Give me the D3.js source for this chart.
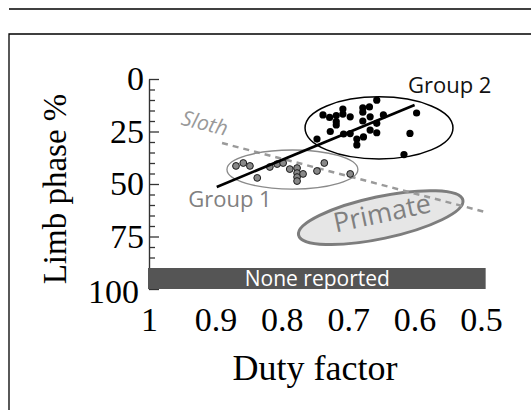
<!DOCTYPE html>
<html><head><meta charset="utf-8">
<script src="https://cdn.jsdelivr.net/npm/d3@7"></script>
<style>
html,body{margin:0;padding:0;background:#fff;}
svg{display:block;}
</style>
</head><body>
<svg id="chart" width="531" height="410"></svg>
<script>
// ---- data ----
const xTicks = [1, 0.9, 0.8, 0.7, 0.6, 0.5];
const yTicks = [0, 25, 50, 75, 100];
const yMinorTicks = [5,10,15,20,30,35,40,45,55,60,65,70,80,85];
// Group 1: [duty factor, limb phase %]
const group1 = [
  [0.869,41.4],[0.858,40.0],[0.848,41.4],[0.837,47.1],[0.818,41.9],[0.807,40.5],
  [0.798,40.0],[0.788,42.9],[0.777,42.4],[0.777,44.8],[0.777,46.7],[0.777,48.6],
  [0.768,45.2],[0.747,43.8],[0.736,40.0],[0.697,45.2]
];
// Group 2
const group2 = [
  [0.747,28.6],[0.738,17.1],[0.728,18.3],[0.727,25.0],[0.718,17.4],[0.718,20.3],
  [0.718,21.9],[0.708,14.3],[0.708,16.7],[0.707,26.2],[0.697,18.0],[0.697,26.0],
  [0.687,28.6],[0.687,31.4],[0.678,13.7],[0.678,15.8],[0.678,20.0],[0.677,27.6],
  [0.668,13.3],[0.667,18.0],[0.667,24.3],[0.657,10.1],[0.657,21.1],[0.657,25.6],
  [0.647,17.1],[0.607,25.9],[0.597,16.2],[0.616,36.0]
];
const trendLine = [[0.898,51.4],[0.600,12.4]];
const slothLine = [[0.890,30.5],[0.494,63.3]];
// ellipses: centre (duty, phase), half-widths in data units
const group1Ellipse = {cx:0.784, cy:43.1, rx:0.0986, ry:9.3};
const group2Ellipse = {cx:0.6536, cy:23.3, rx:0.1114, ry:14.8};
const primateEllipse = {cx:0.651, cy:66.0, rx:0.1265, ry:10.0};
const noneReported = {x0:1, x1:0.493, y0:90, y1:100, label:"None reported"};
const labels = [
  {text:"Group 2", x:0.610, y:6.7},
  {text:"Group 1", x:0.941, y:61.0},
  {text:"Sloth", x:0.916, y:21.0},
  {text:"Primate", x:0.649, y:63.8}
];

// ---- drawing ----
const svg = d3.select("#chart");
const x = d3.scaleLinear().domain([1, 0.5]).range([149, 481]);
const y = d3.scaleLinear().domain([0, 100]).range([79, 289]);

// frame
svg.append("line").attr("x1",9).attr("x2",531).attr("y1",9).attr("y2",9)
  .attr("stroke","#000").attr("stroke-width",1.3);
svg.append("path").attr("d","M9,410V34H531").attr("fill","none")
  .attr("stroke","#000").attr("stroke-width",1.3);

// primate ellipse
function ell(e){
  return {cx:x(e.cx), cy:y(e.cy), rx:Math.abs(x(e.cx+e.rx)-x(e.cx)), ry:Math.abs(y(e.cy+e.ry)-y(e.cy))};
}
const pe = ell(primateEllipse);
svg.append("ellipse").attr("cx",0).attr("cy",0).attr("rx",pe.rx).attr("ry",pe.ry)
  .attr("transform",`translate(${pe.cx},${pe.cy}) rotate(-12)`)
  .attr("fill","#e6e6e6").attr("stroke","#7d7d7d").attr("stroke-width",3);

const lbl = {};
labels.forEach(l => lbl[l.text] = l);
svg.append("text").text("Primate")
  .attr("transform",`translate(${x(lbl.Primate.x)},${y(lbl.Primate.y)}) rotate(-12)`)
  .attr("text-anchor","middle").attr("dy","0.35em")
  .attr("font-family","'Open Sans', sans-serif").attr("font-size",27)
  .attr("fill","#808080");

// sloth dashed line
const line = d3.line().x(d=>x(d[0])).y(d=>y(d[1]));
svg.append("path").attr("d",line(slothLine)).attr("fill","none")
  .attr("stroke","#9a9a9a").attr("stroke-width",2.5).attr("stroke-dasharray","6 5");

svg.append("text").text("Sloth")
  .attr("transform",`translate(${x(lbl.Sloth.x)},${y(lbl.Sloth.y)}) rotate(14)`)
  .attr("text-anchor","middle").attr("dy","0.35em")
  .attr("font-family","'Open Sans', sans-serif").attr("font-style","italic")
  .attr("font-size",21).attr("fill","#999");

// group ellipses
const g1e = ell(group1Ellipse);
svg.append("ellipse").attr("cx",g1e.cx).attr("cy",g1e.cy).attr("rx",g1e.rx).attr("ry",g1e.ry)
  .attr("fill","none").attr("stroke","#8a8a8a").attr("stroke-width",1.3);
const g2e = ell(group2Ellipse);
svg.append("ellipse").attr("cx",g2e.cx).attr("cy",g2e.cy).attr("rx",g2e.rx).attr("ry",g2e.ry)
  .attr("fill","none").attr("stroke","#000").attr("stroke-width",1.5);

// group 1 points
svg.append("g").selectAll("circle").data(group1).join("circle")
  .attr("cx",d=>x(d[0])).attr("cy",d=>y(d[1])).attr("r",3.4)
  .attr("fill","#888").attr("stroke","#1a1a1a").attr("stroke-width",1);

// trend line
svg.append("path").attr("d",line(trendLine)).attr("fill","none")
  .attr("stroke","#000").attr("stroke-width",2.6);

// group 2 points
svg.append("g").selectAll("circle").data(group2).join("circle")
  .attr("cx",d=>x(d[0])).attr("cy",d=>y(d[1])).attr("r",3.6)
  .attr("fill","#000");

// group labels
svg.append("text").text("Group 2").attr("x",x(lbl["Group 2"].x)).attr("y",y(lbl["Group 2"].y))
  .attr("font-family","'Open Sans', sans-serif").attr("font-size",22).attr("fill","#111");
svg.append("text").text("Group 1").attr("x",x(lbl["Group 1"].x)).attr("y",y(lbl["Group 1"].y))
  .attr("font-family","'Open Sans', sans-serif").attr("font-size",22).attr("fill","#808080");

// y axis
const yAxis = svg.append("g").attr("transform","translate(149,0)")
  .call(d3.axisLeft(y).tickValues(yTicks).tickSize(-10).tickSizeOuter(0).tickPadding(5));
yAxis.select(".domain").attr("stroke","#333").attr("stroke-width",1.4);
yAxis.selectAll(".tick line").attr("stroke","#333").attr("stroke-width",1.3);
yAxis.selectAll(".tick text").attr("font-family","'Liberation Serif', serif")
  .attr("font-size",34).attr("fill","#000")
  .attr("dx",d=>d===100?-5:0).attr("dy",d=>d===100?"0.4em":"0.32em");
const yMinor = svg.append("g").attr("transform","translate(149,0)")
  .call(d3.axisLeft(y).tickValues(yMinorTicks).tickSize(-6).tickFormat(""));
yMinor.select(".domain").remove();
yMinor.selectAll(".tick line").attr("stroke","#333").attr("stroke-width",1.3);

// none reported bar
svg.append("rect").attr("x",x(noneReported.x0)-1).attr("y",y(noneReported.y0))
  .attr("width",x(noneReported.x1)-x(noneReported.x0)+1)
  .attr("height",y(noneReported.y1)-y(noneReported.y0))
  .attr("fill","#555");
svg.append("text").text(noneReported.label)
  .attr("x",(x(noneReported.x0)+x(noneReported.x1))/2).attr("y",y(noneReported.y1)-3)
  .attr("text-anchor","middle").attr("font-family","'Open Sans', sans-serif")
  .attr("font-size",21).attr("fill","#fff");

// x axis labels
const xAxis = svg.append("g")
  .call(d3.axisBottom(x).tickValues(xTicks).tickSize(0).tickFormat(d=>String(d)));
xAxis.select(".domain").remove();
xAxis.selectAll(".tick text").attr("y",331).attr("dy",0)
  .attr("font-family","'Liberation Serif', serif").attr("font-size",34).attr("fill","#000");

// axis titles
svg.append("text").text("Duty factor").attr("x",315).attr("y",380)
  .attr("text-anchor","middle").attr("font-family","'Liberation Serif', serif")
  .attr("font-size",36).attr("fill","#000");
svg.append("text").text("Limb phase %")
  .attr("transform","translate(66,189) rotate(-90)")
  .attr("text-anchor","middle").attr("font-family","'Liberation Serif', serif")
  .attr("font-size",33).attr("fill","#000");
</script>
</body></html>
